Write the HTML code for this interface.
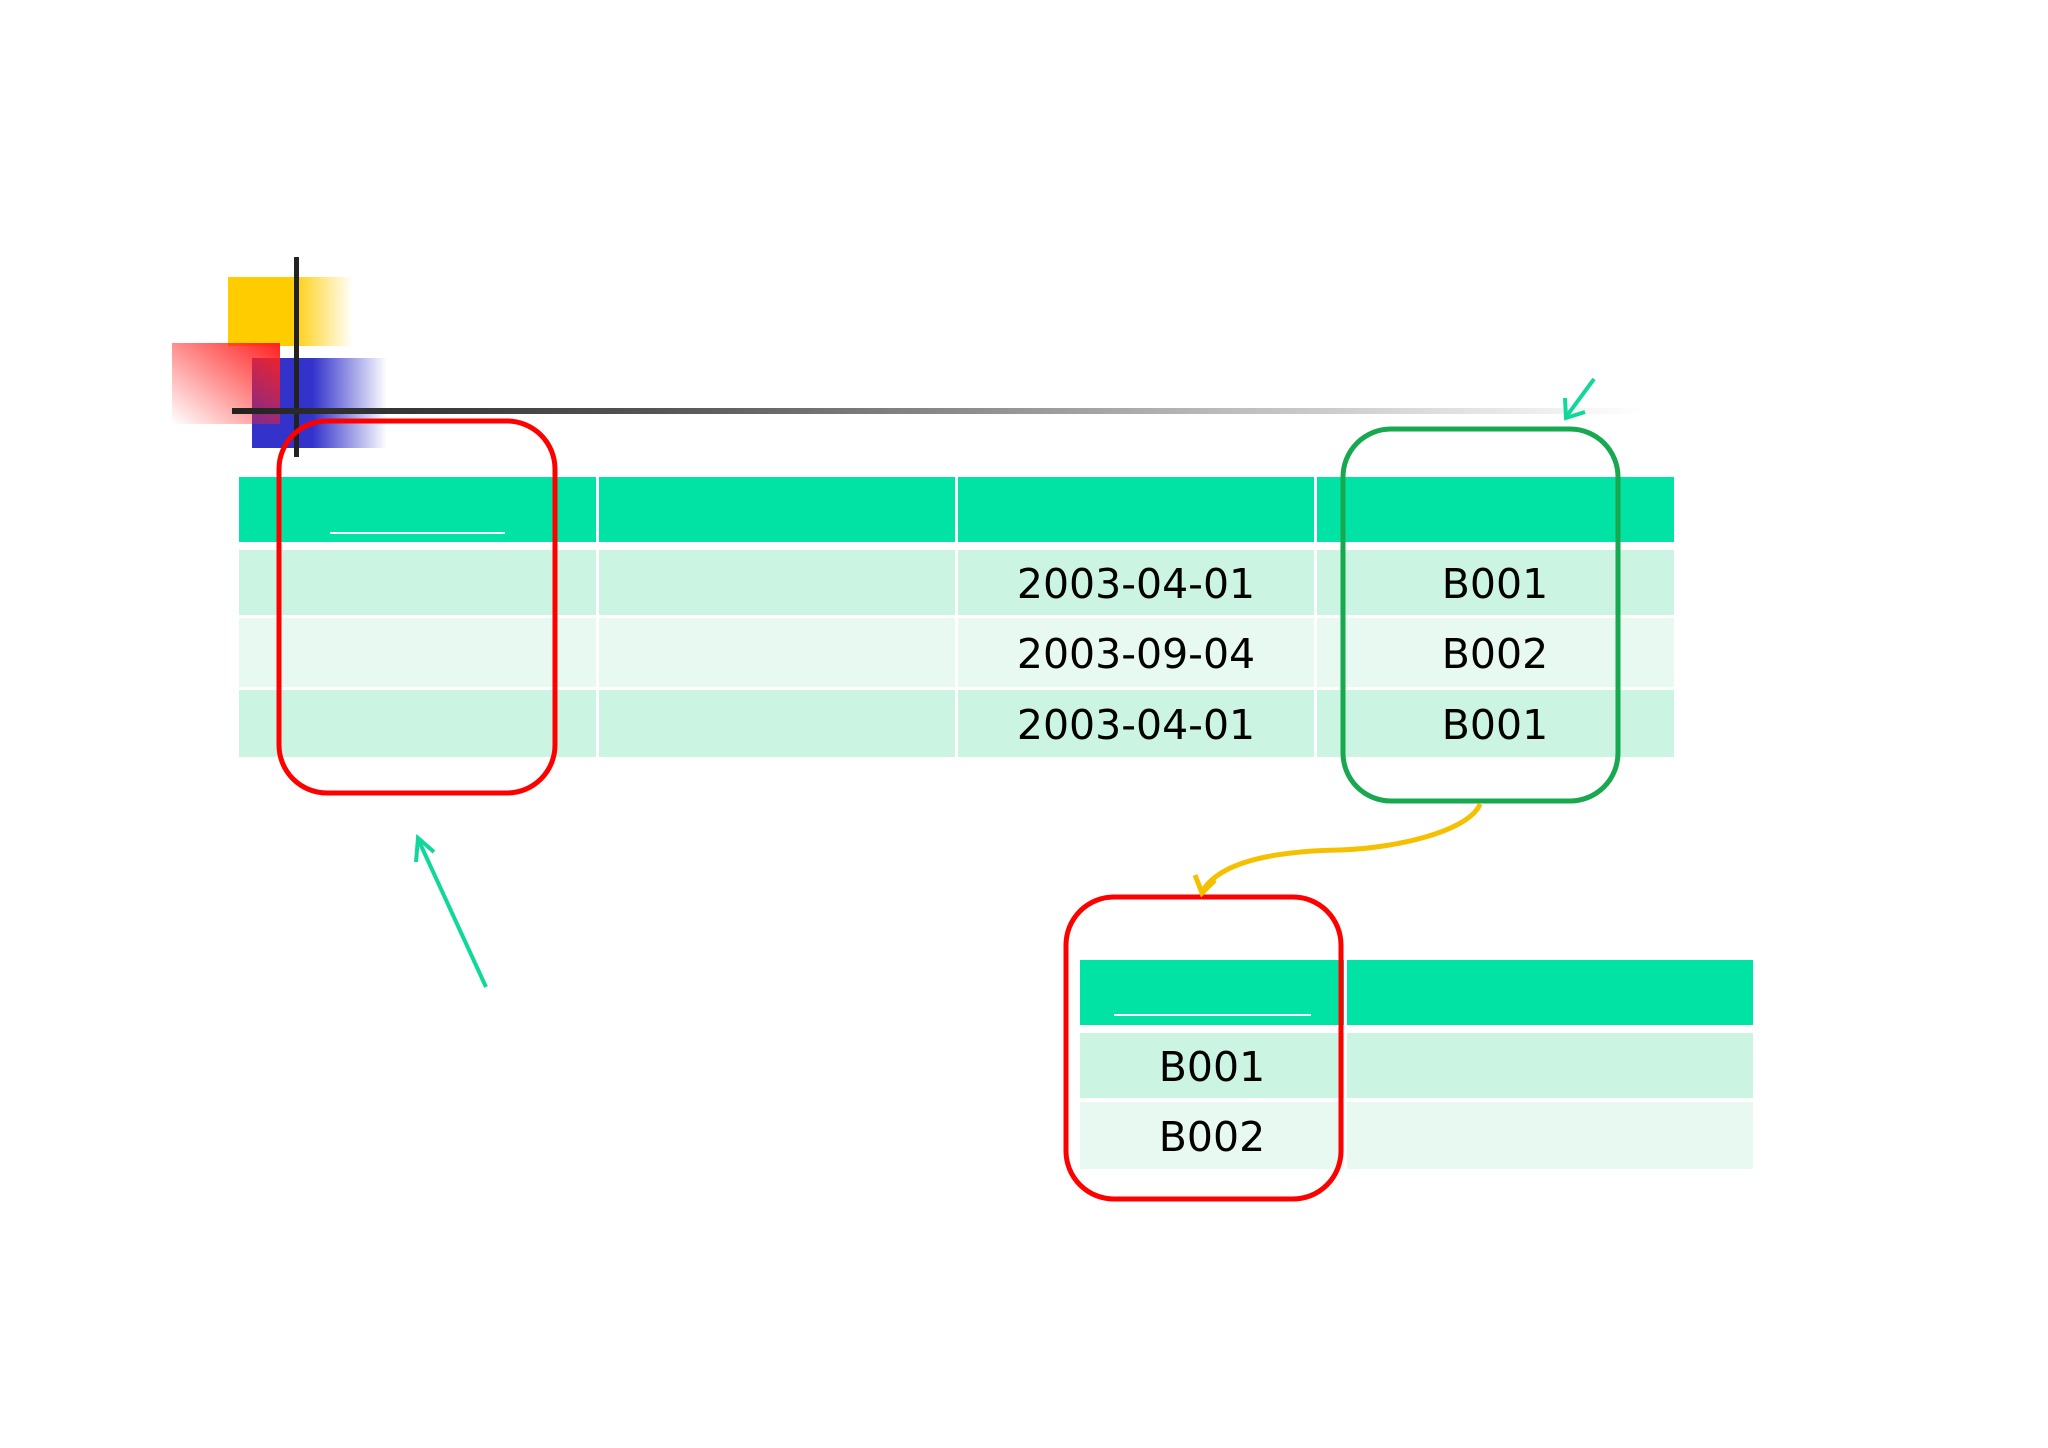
<!DOCTYPE html>
<html><head><meta charset="utf-8"><style>
html,body{margin:0;padding:0;background:#fff;}
svg{display:block}
text{font-family:"DejaVu Sans","Liberation Sans",sans-serif;font-size:41px;fill:#000;text-anchor:middle}
</style></head><body>
<svg width="2048" height="1448" viewBox="0 0 2048 1448" xmlns="http://www.w3.org/2000/svg">
<defs>
<linearGradient id="gy" x1="0" x2="1" y1="0" y2="0"><stop offset="0" stop-color="#FFCC00"/><stop offset="0.5" stop-color="#FFCC00"/><stop offset="1" stop-color="#FFCC00" stop-opacity="0"/></linearGradient>
<linearGradient id="gb" x1="0" x2="1" y1="0" y2="0"><stop offset="0" stop-color="#3333CC"/><stop offset="0.45" stop-color="#3333CC"/><stop offset="1" stop-color="#3333CC" stop-opacity="0"/></linearGradient>
<linearGradient id="gr" x1="1" x2="0" y1="0" y2="1"><stop offset="0" stop-color="#FF2020"/><stop offset="1" stop-color="#FF2020" stop-opacity="0"/></linearGradient>
<linearGradient id="gl" x1="0" x2="1" y1="0" y2="0"><stop offset="0" stop-color="#222"/><stop offset="0.3" stop-color="#555"/><stop offset="0.7" stop-color="#bbb"/><stop offset="1" stop-color="#fff"/></linearGradient>
</defs>
<rect x="228" y="277" width="125" height="69" fill="url(#gy)"/>
<rect x="252" y="358" width="135" height="90" fill="url(#gb)"/>
<rect x="172" y="343" width="108" height="81" fill="url(#gr)"/>
<rect x="294" y="257" width="5" height="200" fill="#222"/>
<rect x="232" y="408" width="1414" height="6" fill="url(#gl)"/>

<rect x="239" y="477" width="1435" height="65" fill="#00E3A5"/>
<rect x="239" y="550" width="1435" height="65" fill="#CBF5E2"/>
<rect x="239" y="618" width="1435" height="69" fill="#E8F9F1"/>
<rect x="239" y="690" width="1435" height="67" fill="#CBF5E2"/>
<rect x="596" y="477" width="3" height="280" fill="#fff"/>
<rect x="955" y="477" width="3" height="280" fill="#fff"/>
<rect x="1314" y="477" width="3" height="280" fill="#fff"/>
<rect x="330" y="532" width="175" height="2" fill="#fff"/>
<text x="1136" y="598">2003-04-01</text>
<text x="1136" y="668">2003-09-04</text>
<text x="1136" y="739">2003-04-01</text>
<text x="1495" y="598">B001</text>
<text x="1495" y="668">B002</text>
<text x="1495" y="739">B001</text>

<rect x="1080" y="960" width="673" height="65" fill="#00E3A5"/>
<rect x="1080" y="1033" width="673" height="65" fill="#CBF5E2"/>
<rect x="1080" y="1102" width="673" height="67" fill="#E8F9F1"/>
<rect x="1344" y="960" width="3" height="209" fill="#fff"/>
<rect x="1114" y="1014" width="197" height="2" fill="#fff"/>
<text x="1212" y="1081">B001</text>
<text x="1212" y="1151">B002</text>

<rect x="279" y="421" width="276" height="372" rx="48" fill="none" stroke="#F00" stroke-width="5"/>
<rect x="1343" y="429" width="275" height="372" rx="48" fill="none" stroke="#18A850" stroke-width="5"/>
<rect x="1066" y="897" width="275" height="302" rx="48" fill="none" stroke="#F00" stroke-width="5"/>

<g stroke="#10D89A" stroke-width="4" fill="none">
<line x1="1594" y1="379" x2="1566" y2="417"/>
<polyline points="1565,398 1566,418 1585,412"/>
<line x1="486" y1="987" x2="418" y2="839"/>
<polyline points="416,862 418,838 434,852"/>
</g>
<g stroke="#F5C000" stroke-width="5" fill="none">
<path d="M1480,804 C1470,830 1400,848 1340,850 C1280,851 1220,860 1202,892"/>
<polyline points="1195,875 1202,893 1215,880"/>
</g>
</svg>
</body></html>
